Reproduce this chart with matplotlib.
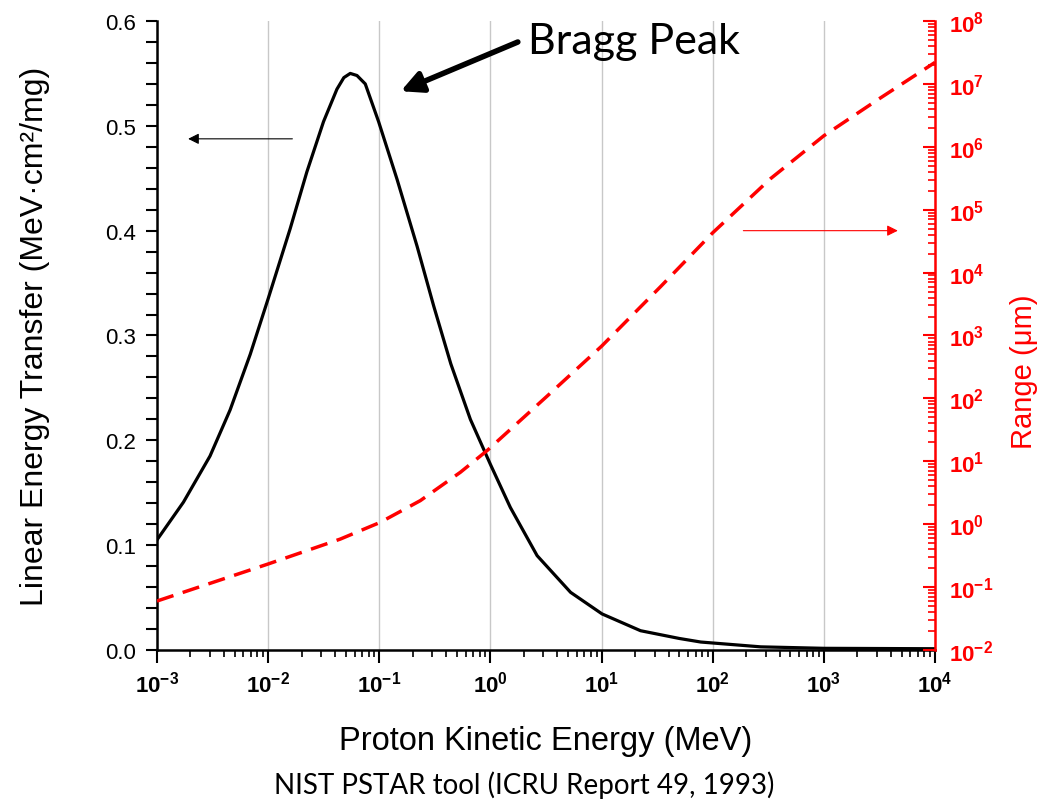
import numpy as np
import matplotlib
matplotlib.use('Agg')
import matplotlib.pyplot as plt
from matplotlib.ticker import LogLocator, MultipleLocator, NullFormatter

plt.rcParams['font.family'] = ['Liberation Sans', 'DejaVu Sans']
plt.rcParams['mathtext.default'] = 'regular'

# LET of protons (MeV cm2/mg) vs kinetic energy (MeV)
let_energy = [1e-3, 1.73e-3, 3e-3, 4.55e-3, 6.9e-3, 1e-2, 1.58e-2, 2.23e-2, 3.15e-2,
              4.16e-2, 4.8e-2, 5.48e-2, 6.3e-2, 7.48e-2, 9.86e-2, 1.445e-1,
              2.19e-1, 3.09e-1, 4.4e-1, 6.6e-1, 1.0, 1.51, 2.63, 5.26, 10.1,
              22.4, 50, 78, 270, 1e3, 1e4]
let_value = [0.105, 0.141, 0.185, 0.229, 0.282, 0.335, 0.402, 0.456, 0.504,
             0.535, 0.546, 0.550, 0.548, 0.540, 0.504, 0.449,
             0.385, 0.328, 0.273, 0.220, 0.177, 0.136, 0.090, 0.055, 0.0344,
             0.0184, 0.011, 0.0076, 0.0030, 0.0016, 0.0012]

# projected range (um) vs kinetic energy (MeV)
range_energy = [1e-3, 1e-2, 4.46e-2, 1.02e-1, 2.34e-1, 5.37e-1, 9.33e-1,
                3.26, 10, 34, 100, 330, 1e3, 3e3, 1e4]
range_value = [0.060, 0.233, 0.58, 1.07, 2.37, 6.7, 14.8,
               110, 676, 6.0e3, 4.3e4, 3.1e5, 1.5e6, 5.5e6, 2.2e7]

x_exps = [-3, -2, -1, 0, 1, 2, 3, 4]
y2_exps = [-2, -1, 0, 1, 2, 3, 4, 5, 6, 7, 8]
let_ticks = [0.0, 0.1, 0.2, 0.3, 0.4, 0.5, 0.6]

red = '#ff0000'

fig = plt.figure(figsize=(10.43, 8.03), dpi=100)
ax = fig.add_axes([0.1505, 0.1893, 0.746, 0.7833])

ax.plot(let_energy, let_value, color='black', lw=2.3, zorder=3)
ax.set_xscale('log')
ax.set_xlim(1e-3, 1e4)
ax.set_ylim(0, 0.6)

ax.set_xticks([10.0**e for e in x_exps])
ax.set_xticklabels(['10$^{%d}$' % e for e in x_exps], fontweight='bold', fontsize=16)
ax.xaxis.set_minor_locator(LogLocator(base=10, subs=np.arange(2, 10), numticks=20))
ax.xaxis.set_minor_formatter(NullFormatter())
ax.set_yticks(let_ticks)
ax.set_yticklabels(['%.1f' % v for v in let_ticks], fontsize=16)
ax.yaxis.set_minor_locator(MultipleLocator(0.02))

ax.tick_params(axis='x', which='major', direction='out', length=9, width=1.5, pad=6)
ax.tick_params(axis='x', which='minor', direction='out', length=5, width=1.2)
ax.tick_params(axis='y', which='both', direction='out', length=8, width=1.5, pad=7)

ax.grid(True, axis='x', which='major', color='#c8c8c8', lw=1)
ax.set_axisbelow(True)
for s in ['top', 'right']:
    ax.spines[s].set_visible(False)
ax.spines['left'].set_linewidth(1.8)
ax.spines['bottom'].set_linewidth(1.8)

ax.set_xlabel('Proton Kinetic Energy (MeV)', fontsize=23.5, labelpad=20)
ax.set_ylabel('Linear Energy Transfer (MeV·cm²/mg)', fontsize=23, labelpad=40)

# right axis: range
ax2 = ax.twinx()
ax2.plot(range_energy, range_value, color=red, lw=2.5, ls=(0, (5, 2.8)), zorder=3)
ax2.set_yscale('log')
ax2.set_ylim(1e-2, 1e8)
ax2.set_yticks([10.0**e for e in y2_exps])
ax2.set_yticklabels(['10$^{%d}$' % e for e in y2_exps], fontweight='bold', fontsize=16, color=red)
ax2.yaxis.set_minor_locator(LogLocator(base=10, subs=np.arange(2, 10), numticks=20))
ax2.yaxis.set_minor_formatter(NullFormatter())
ax2.tick_params(axis='y', which='major', direction='in', length=9, width=1.5, color=red, pad=10)
ax2.tick_params(axis='y', which='minor', direction='in', length=5, width=1.2, color=red)
for s in ['top', 'left', 'bottom']:
    ax2.spines[s].set_visible(False)
ax2.spines['right'].set_color(red)
ax2.spines['right'].set_linewidth(1.8)
ax2.set_ylabel('Range (μm)', fontsize=21, color=red, labelpad=12)
ax2.yaxis.label.set_y(0.444)

# side arrows pointing to each axis
ax.annotate('', xy=(1.8e-3, 0.4876), xytext=(1.75e-2, 0.4876),
            arrowprops=dict(arrowstyle='-|>', color='black', lw=0.8, mutation_scale=16))
ax.annotate('', xy=(4.9e3, 0.40), xytext=(178, 0.40),
            arrowprops=dict(arrowstyle='-|>', color=red, lw=0.8, mutation_scale=16))

# Bragg peak callout
ax.annotate('', xy=(0.148, 0.532), xytext=(1.86, 0.581),
            arrowprops=dict(arrowstyle='-|>', color='black', lw=4, mutation_scale=32))
ax.text(2.2, 0.581, 'Bragg Peak', fontsize=31, family=['Lato', 'DejaVu Sans'],
        ha='left', va='center')

fig.text(0.503, 0.0224, 'NIST PSTAR tool (ICRU Report 49, 1993)', fontsize=20,
         family=['Lato', 'DejaVu Sans'], ha='center', va='center')

fig.savefig('out.png', dpi=100)
